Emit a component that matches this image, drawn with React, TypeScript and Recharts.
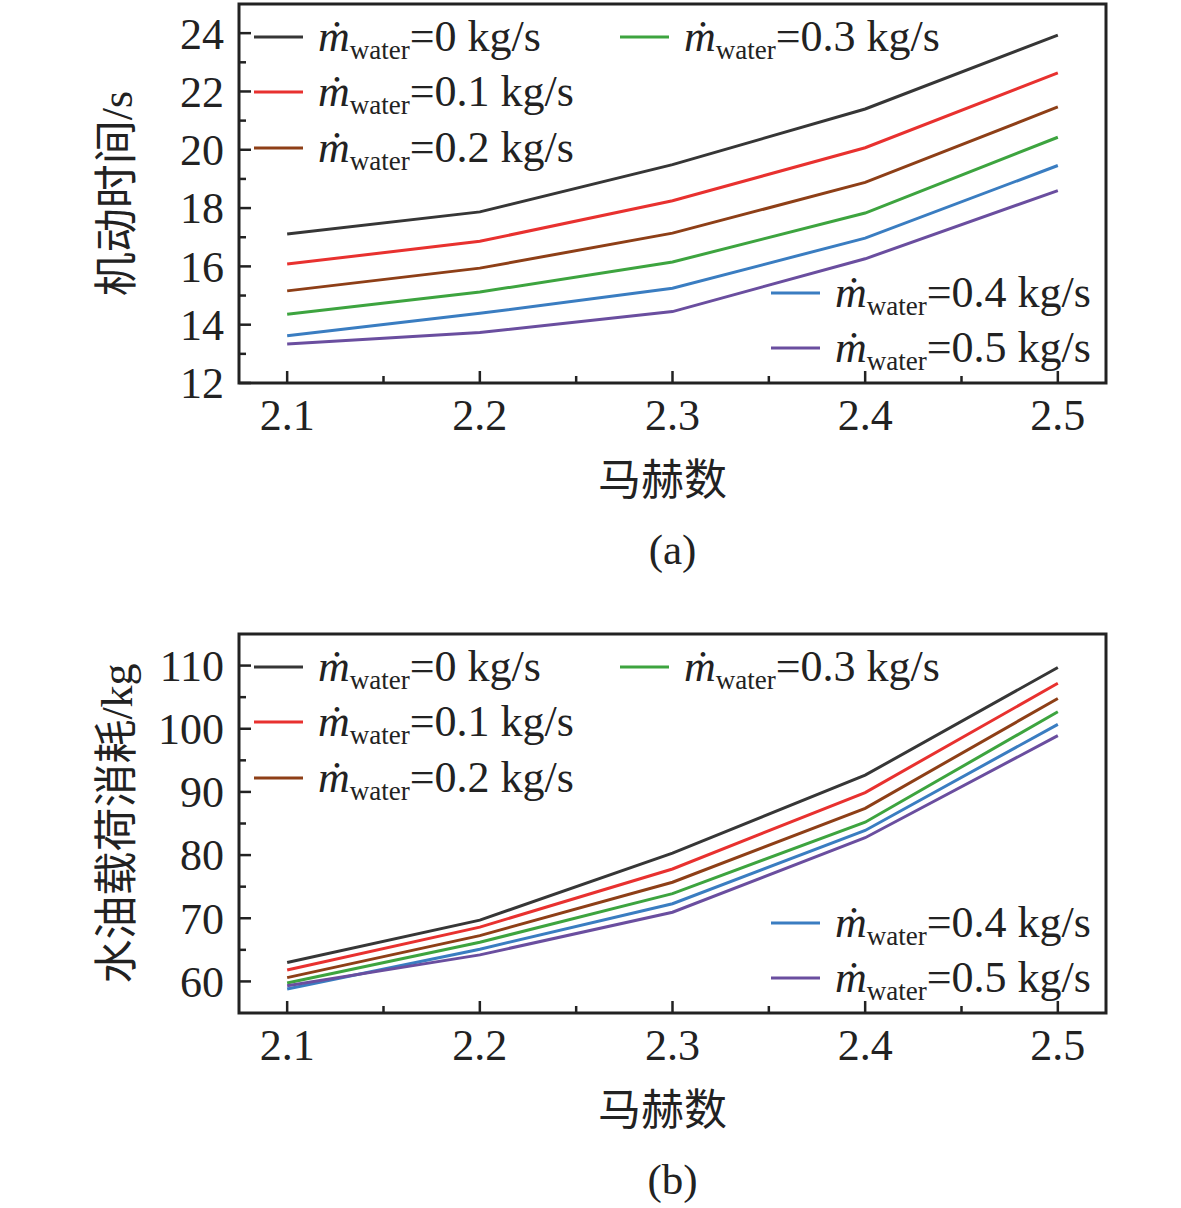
import { Label, Legend, Line, LineChart, ReferenceArea, XAxis, YAxis } from "recharts"

const mach = [2.1, 2.2, 2.3, 2.4, 2.5]
const machTicks = [2.1, 2.15, 2.2, 2.25, 2.3, 2.35, 2.4, 2.45, 2.5]
const machDomain = [2.075, 2.525]

const flowRates = ["0", "0.1", "0.2", "0.3", "0.4", "0.5"]
const colors = ["#363636", "#e8312f", "#8e3f17", "#3da43f", "#3a7dc1", "#6a4e9f"]

// 机动时间/s
const time0 = [17.11, 17.87, 19.49, 21.4, 23.93]
const time1 = [16.08, 16.86, 18.25, 20.07, 22.64]
const time2 = [15.16, 15.94, 17.14, 18.88, 21.47]
const time3 = [14.36, 15.12, 16.15, 17.83, 20.43]
const time4 = [13.62, 14.39, 15.25, 16.97, 19.46]
const time5 = [13.34, 13.73, 14.45, 16.26, 18.6]
const timeTicks = [12, 13, 14, 15, 16, 17, 18, 19, 20, 21, 22, 23, 24]
const timeMajor = [12, 14, 16, 18, 20, 22, 24]
const timeDomain = [12, 25]

// 水油载荷消耗/kg
const fuel0 = [63.0, 69.7, 80.3, 92.65, 109.7]
const fuel1 = [61.8, 68.6, 77.8, 89.9, 107.2]
const fuel2 = [60.6, 67.25, 75.7, 87.4, 104.8]
const fuel3 = [59.75, 66.2, 73.9, 85.2, 102.7]
const fuel4 = [58.8, 65.1, 72.3, 83.9, 100.7]
const fuel5 = [59.3, 64.2, 70.95, 82.75, 98.9]
const fuelTicks = [60, 65, 70, 75, 80, 85, 90, 95, 100, 105, 110]
const fuelMajor = [60, 70, 80, 90, 100, 110]
const fuelDomain = [55, 115]

// legend placement inside each panel: [left, line centre y]
const legendSpots = [
  [254, 37],
  [254, 92],
  [254, 148],
  [620, 37],
  [771, 293],
  [771, 348],
]

const SERIF = "'Liberation Serif', 'Times New Roman', 'Noto Sans CJK SC', serif"
const INK = "#222"

const W = 1181
const H = 578
const AXIS_X = 239
const MARGIN = { top: 4, right: 75, left: 0, bottom: 75 }

const buildRows = (series: number[][]) =>
  mach.map((m, i) => {
    const row: Record<string, number> = { mach: m }
    series.forEach((s, k) => {
      row["s" + k] = s[i]
    })
    return row
  })

const YTick = (props: any) => {
  const { x, y, payload, major } = props
  const isMajor = major.includes(payload.value)
  const ax = x + 15
  return (
    <g>
      <line x1={ax} x2={ax + (isMajor ? 12 : 7)} y1={y} y2={y} stroke={INK} strokeWidth={2.5} />
      {isMajor && (
        <text x={x} y={y} dy="0.35em" textAnchor="end" fill={INK} style={{ fontFamily: SERIF, fontSize: 44 }}>
          {payload.value}
        </text>
      )}
    </g>
  )
}

const XTick = (props: any) => {
  const { x, y, payload } = props
  const isMajor = mach.some((m) => Math.abs(m - payload.value) < 1e-6)
  const ay = y - 17
  return (
    <g>
      <line x1={x} x2={x} y1={ay} y2={ay - (isMajor ? 12 : 7)} stroke={INK} strokeWidth={2.5} />
      {isMajor && (
        <text x={x} y={y} dy="0.69em" textAnchor="middle" fill={INK} style={{ fontFamily: SERIF, fontSize: 44 }}>
          {payload.value.toFixed(1)}
        </text>
      )}
    </g>
  )
}

const LegendOverlay = () => (
  <div style={{ position: "relative", width: W, height: H, pointerEvents: "none" }}>
    {flowRates.map((f, i) => (
      <div
        key={f}
        style={{
          position: "absolute",
          left: legendSpots[i][0],
          top: legendSpots[i][1] - 28,
          height: 56,
          lineHeight: "56px",
          whiteSpace: "nowrap",
          fontFamily: SERIF,
          fontSize: 44,
          color: INK,
        }}
      >
        <svg width={49} height={56} style={{ verticalAlign: "top" }}>
          <line x1={0} x2={49} y1={28} y2={28} stroke={colors[i]} strokeWidth={3} />
        </svg>
        <span style={{ marginLeft: 15, fontStyle: "italic" }}>ṁ</span>
        <span style={{ fontSize: 27, verticalAlign: -8 }}>water</span>
        <span>={f} kg/s</span>
      </div>
    ))}
  </div>
)

type PanelProps = {
  rows: Record<string, number>[]
  domain: number[]
  ticks: number[]
  major: number[]
  yLabel: string
  caption: string
}

const labelStyle = { fontFamily: SERIF }

const Panel = ({ rows, domain, ticks, major, yLabel, caption }: PanelProps) => (
  <LineChart width={W} height={H} data={rows} margin={MARGIN}>
    <XAxis
      dataKey="mach"
      type="number"
      domain={machDomain}
      ticks={machTicks}
      interval={0}
      allowDataOverflow
      axisLine={false}
      tickLine={false}
      tickSize={0}
      tickMargin={17}
      height={120}
      tick={(p: any) => <XTick {...p} />}
    >
      <Label value="马赫数" position="insideBottom" offset={8} dx={-10} fill={INK} fontSize={43} style={labelStyle} />
      <Label value={caption} position="bottom" offset={30} fill={INK} fontSize={43} style={labelStyle} />
    </XAxis>
    <YAxis
      type="number"
      domain={domain}
      ticks={ticks}
      interval={0}
      allowDataOverflow
      width={AXIS_X}
      axisLine={false}
      tickLine={false}
      tickSize={0}
      tickMargin={15}
      tick={(p: any) => <YTick {...p} major={major} />}
    >
      <Label value={yLabel} angle={-90} position="center" dx={-3} fill={INK} fontSize={44} style={labelStyle} />
    </YAxis>
    <ReferenceArea
      x1={machDomain[0]}
      x2={machDomain[1]}
      y1={domain[0]}
      y2={domain[1]}
      fill="none"
      stroke={INK}
      strokeWidth={3}
      ifOverflow="visible"
    />
    {flowRates.map((f, k) => (
      <Line
        key={f}
        type="linear"
        dataKey={"s" + k}
        stroke={colors[k]}
        strokeWidth={3}
        dot={false}
        isAnimationActive={false}
      />
    ))}
    <Legend
      layout="horizontal"
      verticalAlign="middle"
      align="center"
      wrapperStyle={{ position: "absolute", left: 0, top: 0, width: W, height: H }}
      content={() => <LegendOverlay />}
    />
  </LineChart>
)

export default function App() {
  const timeRows = buildRows([time0, time1, time2, time3, time4, time5])
  const fuelRows = buildRows([fuel0, fuel1, fuel2, fuel3, fuel4, fuel5])
  return (
    <div style={{ position: "absolute", left: 0, top: 0, width: W, height: 1208, background: "#fff" }}>
      <div style={{ position: "absolute", left: 0, top: 0 }}>
        <Panel rows={timeRows} domain={timeDomain} ticks={timeTicks} major={timeMajor} yLabel="机动时间/s" caption="(a)" />
      </div>
      <div style={{ position: "absolute", left: 0, top: 630 }}>
        <Panel rows={fuelRows} domain={fuelDomain} ticks={fuelTicks} major={fuelMajor} yLabel="水油载荷消耗/kg" caption="(b)" />
      </div>
    </div>
  )
}
